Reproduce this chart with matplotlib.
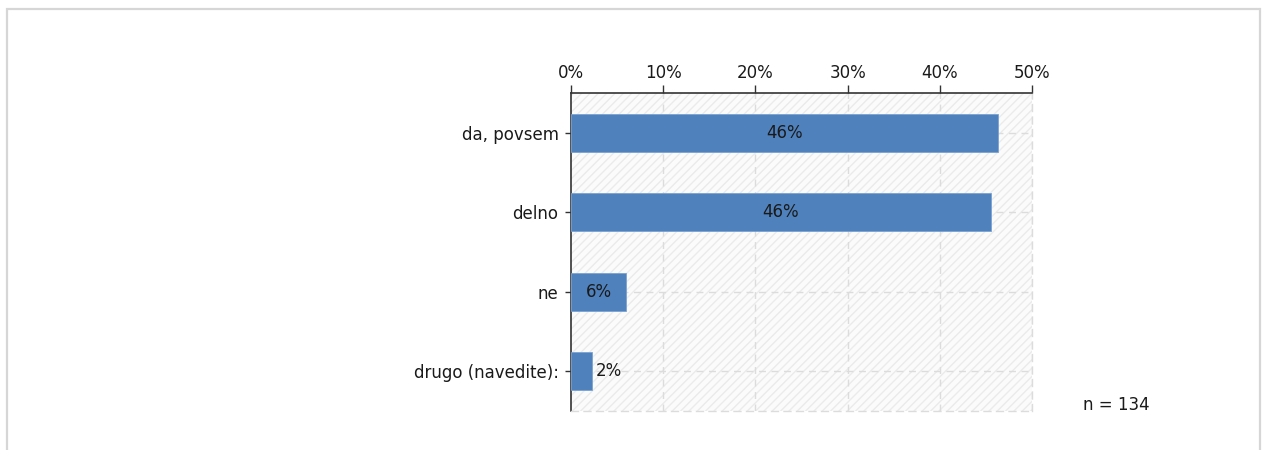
import matplotlib
matplotlib.use("Agg")
import matplotlib.pyplot as plt
from matplotlib.patches import Rectangle
import numpy as np

categories = ["da, povsem", "delno", "ne", "drugo (navedite):"]
counts = [62, 61, 8, 3]
n_total = 134
values = [c / n_total * 100 for c in counts]
labels = ["46%", "46%", "6%", "2%"]
xticks = [0, 10, 20, 30, 40, 50]
xticklabels = ["0%", "10%", "20%", "30%", "40%", "50%"]

plt.rcParams['font.family'] = ['DejaVu Sans']
FS = 12
W, H = 1262, 450
fig = plt.figure(figsize=(W / 100, H / 100), dpi=100)

# outer frame
fig.patches.append(Rectangle((7 / W, -0.05), (1260 - 7) / W, 1 - 9 / H + 0.05,
                             transform=fig.transFigure, fill=False,
                             edgecolor="#d6d6d6", linewidth=1.6, zorder=0))

ax = fig.add_axes([571 / W, 1 - 411 / H, (1032 - 571) / W, (411 - 93) / H])
ax.set_xlim(0, 50)
ax.set_ylim(len(categories) - 0.5, -0.5)

# background hatch
ax.set_facecolor("#fbfbfb")
ax.add_patch(Rectangle((0, -0.5), 50, len(categories), hatch="////",
                       facecolor="none", edgecolor="#ebebeb", linewidth=0, zorder=0))

y = np.arange(len(categories))
for xv in xticks[1:]:
    ax.axvline(xv, color="#dcdcdc", linestyle=(0, (5, 4)), linewidth=1, zorder=1)
for yv in y:
    ax.axhline(yv, color="#dcdcdc", linestyle=(0, (5, 4)), linewidth=1, zorder=1)

ax.barh(y, values, height=0.48, color="#4f81bd", edgecolor="#7aa2d2",
        linewidth=0.6, zorder=3)

for yi, v, lab in zip(y, values, labels):
    if v > 4:
        ax.text(v / 2, yi, lab, ha="center", va="center", fontsize=FS,
                color="#1a1a1a", zorder=4)
    else:
        ax.text(v + 0.4, yi, lab, ha="left", va="center", fontsize=FS,
                color="#1a1a1a", zorder=4)

ax.xaxis.tick_top()
ax.set_xticks(xticks)
ax.set_xticklabels(xticklabels, fontsize=FS, color="#1a1a1a")
ax.set_yticks(y)
ax.set_yticklabels(categories, fontsize=FS, color="#1a1a1a")
ax.tick_params(axis="x", direction="out", length=6, width=1, color="#333333", pad=2)
ax.tick_params(axis="y", direction="out", length=4, width=1, color="#333333", pad=5)

ax.spines["top"].set_color("#333333")
ax.spines["left"].set_color("#333333")
ax.spines["top"].set_linewidth(1.2)
ax.spines["left"].set_linewidth(1.2)
for s in ["bottom", "right"]:
    ax.spines[s].set_color("#dcdcdc")
    ax.spines[s].set_linestyle((0, (5, 4)))
    ax.spines[s].set_linewidth(1)

fig.text(1083 / W, 1 - 405 / H, f"n = {n_total}", fontsize=FS,
         color="#1a1a1a", ha="left", va="center")

fig.savefig("out.png", dpi=100)
